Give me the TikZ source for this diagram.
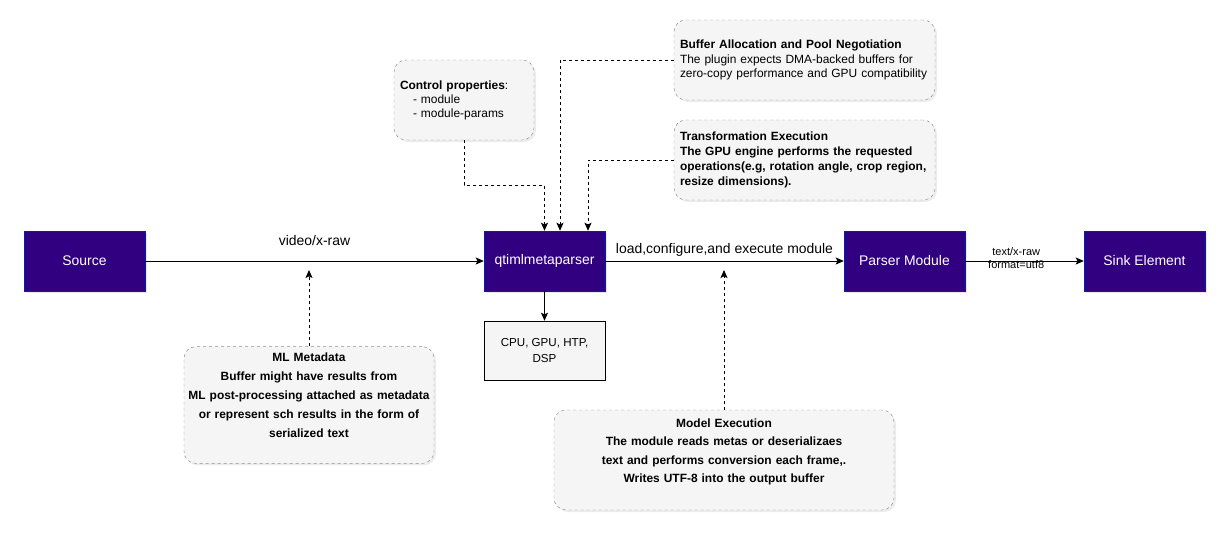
\documentclass[tikz,border=0pt]{standalone}
\usepackage{fontspec}
\setmainfont{Liberation Sans}
\usepackage{xcolor}
\usepackage{tikz}
\usetikzlibrary{arrows.meta, positioning, shadows}

\definecolor{plugpurple}{RGB}{49,0,128}
\definecolor{plugblue}{RGB}{0,29,188}
\definecolor{notegray}{RGB}{245,245,245}
\definecolor{notedash}{RGB}{140,140,140}

\hyphenpenalty=10000
\exhyphenpenalty=10000

\begin{document}
\begin{tikzpicture}[x=0.3mm, y=-0.3mm,
    every node/.style={font=\fontsize{10.2}{12.3}\selectfont},
    plugin/.style={draw=plugblue, fill=plugpurple, text=white, minimum width=36.3mm, minimum height=18mm, inner sep=0pt,
        font=\fontsize{11.9}{14}\selectfont, drop shadow={opacity=0.18, shadow xshift=0.7mm, shadow yshift=-0.7mm}},
    note/.style={draw=notedash, dash pattern=on 0.9mm off 0.9mm, fill=notegray, rounded corners=3.6mm, inner xsep=1.2mm, inner ysep=2mm,
        drop shadow={opacity=0.15, shadow xshift=0.6mm, shadow yshift=-0.6mm}},
    hwbox/.style={draw, fill=notegray, minimum width=36.3mm, minimum height=17.7mm, align=center, font=\fontsize{9.9}{13}\selectfont},
    flow/.style={-{Stealth[length=2.4mm, width=2.1mm, inset=0.5mm]}, line width=0.8pt},
    hint/.style={flow, dash pattern=on 0.9mm off 0.9mm},
    tag/.style={font=\fontsize{11.9}{14}\selectfont}
]
    \useasboundingbox (0,0) rectangle (1231,538);

    % pipeline
    \node[plugin] (src)   at (84.5,261)  {Source};
    \node[plugin] (qtiml) at (544.5,261) {qtimlmetaparser};
    \node[plugin] (pmod)  at (904.5,261) {Parser Module};
    \node[plugin] (sink)  at (1144.5,261) {Sink Element};
    \node[hwbox]  (cpu)   at (544.5,350.5) {CPU, GPU, HTP,\\DSP};

    % notes
    \node[note, text width=39.6mm, minimum height=24mm, align=left, font=\fontsize{10.2}{12}\selectfont] (ctrl) at (464,100)
        {\hspace*{0.6mm}\textbf{Control properties}:\\\hspace*{4.5mm}- module\\\hspace*{4.5mm}- module-params};
    \node[note, text width=75.9mm, minimum height=24mm, align=left, font=\fontsize{10.2}{12.3}\selectfont] (buf) at (804.5,60)
        {\hspace*{0.6mm}\textbf{Buffer Allocation and Pool Negotiation}\\\hspace*{0.6mm}The plugin expects DMA-backed buffers for\\\hspace*{0.6mm}zero-copy performance and GPU compatibility};
    \node[note, text width=75.9mm, minimum height=24mm, align=left, font=\bfseries\fontsize{10.2}{12.8}\selectfont] (trans) at (804.5,160)
        {\hspace*{0.6mm}Transformation Execution\\\hspace*{0.6mm}The GPU engine performs the requested\\\hspace*{0.6mm}operations(e.g, rotation angle, crop region,\\\hspace*{0.6mm}resize dimensions).};
    \node[note, text width=72.6mm, minimum height=33mm, align=center, font=\bfseries\fontsize{10.2}{16.2}\selectfont] (mlmeta) at (309,405)
        {ML Metadata\\Buffer might have results from\\ML post-processing attached as metadata\\or represent sch results in the form of\\serialized text\\\mbox{}};
    \node[note, text width=99.6mm, minimum height=30mm, align=center, font=\bfseries\fontsize{10.2}{15.7}\selectfont] (modex) at (724,460)
        {Model Execution\\The module reads metas or deserializaes\\text and performs conversion each frame,.\\Writes UTF-8 into the output buffer\\\mbox{}};

    % flow
    \draw[flow] (src) -- node[tag, yshift=6mm] {video/x-raw} (qtiml);
    \draw[flow] (qtiml) -- node[tag, yshift=3.3mm] {load,configure,and execute module} (pmod);
    \draw[flow] (pmod) -- node[pos=0.43, yshift=1mm, align=center, font=\fontsize{9.4}{11}\selectfont] {text/x-raw\\format=utf8} (sink);
    \draw[flow] (qtiml) -- (cpu);

    % hints
    \coordinate (vidin) at (309,270);
    \coordinate (modin) at (724,270);
    \draw[hint] (ctrl.south) -- ++(0,45) -| (qtiml.north);
    \draw[hint] (buf.west) -| ([xshift=4.65mm]qtiml.north);
    \draw[hint] (trans.west) -| ([xshift=13.05mm]qtiml.north);
    \draw[hint] (mlmeta.north) -- (vidin);
    \draw[hint] (modex.north) -- (modin);
\end{tikzpicture}
\end{document}
